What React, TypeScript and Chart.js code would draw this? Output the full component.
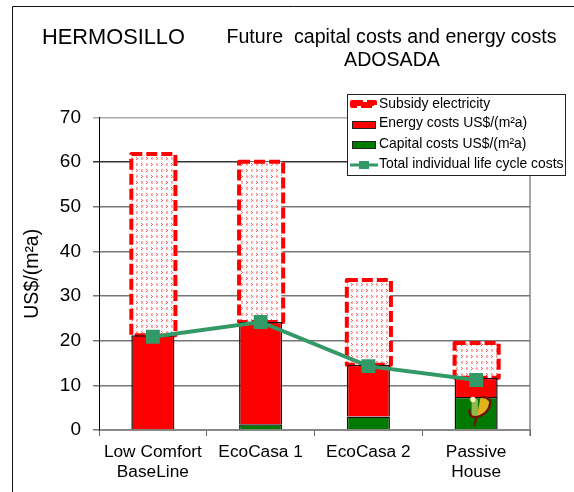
import React, { useEffect, useRef } from "react";
import { Chart, registerables } from "chart.js";

Chart.register(...registerables);

const FONT = '"Liberation Sans", Arial, sans-serif';
const categories = [["Low Comfort", "BaseLine"], "EcoCasa 1", "EcoCasa 2", ["Passive", "House"]];
const capitalCosts = [0, 1.3, 3, 7.4];
const energyCosts = [21.2, 22.9, 11.6, 4.3];
const subsidyElectricity = [40.6, 35.9, 19, 7.8];
const totalLifeCycle = [20.9, 24.2, 14.3, 11.2];
const yTicks = [0, 10, 20, 30, 40, 50, 60, 70];
const mainTitle = "HERMOSILLO";
const subTitle = ["Future  capital costs and energy costs", "ADOSADA"];
const yTitle = "US$/(m²a)";
const legendLabels = [
  "Subsidy electricity",
  "Energy costs US$/(m²a)",
  "Capital costs US$/(m²a)",
  "Total individual life cycle costs",
];

const RED = "#ff0000";
const GREEN = "#007a00";
const LINE = "#339966";

function makePattern(): CanvasPattern | string {
  const c = document.createElement("canvas");
  c.width = 10;
  c.height = 12;
  const x = c.getContext("2d");
  if (!x) return "#fff";
  x.fillStyle = "#ffffff";
  x.fillRect(0, 0, 10, 12);
  const pink = (a: number, b: number) => {
    x.fillStyle = "#ffb4b4";
    x.fillRect(a, b, 2, 3);
    x.fillStyle = "#ff8c8c";
    x.fillRect(a, b + 1, 1, 1);
  };
  const red = (a: number, b: number) => {
    x.fillStyle = "#ff5a5a";
    x.fillRect(a, b, 1, 1);
    x.fillRect(a + 1, b + 1, 1, 1);
    x.fillRect(a, b + 2, 1, 1);
  };
  pink(1, 1);
  red(6, 1);
  red(1, 7);
  pink(6, 7);
  return x.createPattern(c, "repeat") || "#fff";
}

function dashedBox(ctx: CanvasRenderingContext2D, l: number, t: number, r: number, b: number) {
  ctx.save();
  ctx.strokeStyle = RED;
  ctx.lineWidth = 4;
  ctx.lineJoin = "round";
  ctx.setLineDash([11, 4]);
  ctx.strokeRect(l, t, r - l, b - t);
  ctx.restore();
}

const decorPlugin = {
  id: "decor",
  beforeDraw(chart: any) {
    const { ctx, chartArea, scales } = chart;
    ctx.save();
    ctx.fillStyle = "#fff";
    ctx.fillRect(0, 0, chart.width, chart.height);
    ctx.strokeStyle = "#111";
    ctx.lineWidth = 1;
    ctx.beginPath();
    ctx.moveTo(12.5, chart.height);
    ctx.lineTo(12.5, 6.5);
    ctx.lineTo(chart.width, 6.5);
    ctx.stroke();

    ctx.fillStyle = "#000";
    ctx.textBaseline = "alphabetic";
    ctx.font = `21.8px ${FONT}`;
    ctx.textAlign = "left";
    ctx.fillText(mainTitle, 42, 44);
    ctx.font = `19.6px ${FONT}`;
    ctx.textAlign = "center";
    ctx.fillText(subTitle[0], 391.5, 43);
    ctx.fillText(subTitle[1], 392, 65.5);

    ctx.strokeStyle = "#888";
    ctx.lineWidth = 1.5;
    ctx.beginPath();
    ctx.moveTo(chartArea.right, chartArea.top);
    ctx.lineTo(chartArea.right, scales.y.bottom + 6);
    ctx.stroke();
    ctx.restore();
  },
  afterDatasetDraw(chart: any, args: any) {
    if (args.index !== 2) return;
    const { ctx } = chart;
    chart.getDatasetMeta(2).data.forEach((bar: any) => {
      const p = bar.getProps(["x", "y", "base", "width"], true);
      dashedBox(ctx, p.x - p.width / 2, p.y, p.x + p.width / 2 + 1, p.base);
    });
  },
  afterDatasetsDraw(chart: any) {
    const { ctx } = chart;
    // small emblem sitting on the last bar
    const bar = chart.getDatasetMeta(0).data[3];
    ctx.save();
    ctx.translate(bar.x + 3, bar.y + 10);
    ctx.scale(1.25, 1.25);
    const cx = 0;
    const cy = 0;
    ctx.fillStyle = "#8fb84e";
    ctx.beginPath();
    ctx.moveTo(cx - 6, cy - 7);
    ctx.lineTo(cx - 1, cy - 6);
    ctx.lineTo(cx - 1, cy + 7);
    ctx.lineTo(cx - 6, cy + 8);
    ctx.closePath();
    ctx.fill();
    ctx.fillStyle = "#e3b21a";
    ctx.beginPath();
    ctx.moveTo(cx - 2, cy + 8);
    ctx.quadraticCurveTo(cx + 8, cy + 4, cx + 8, cy - 4);
    ctx.quadraticCurveTo(cx + 5, cy - 8, cx + 1, cy - 7);
    ctx.closePath();
    ctx.fill();
    ctx.strokeStyle = "#7a0c00";
    ctx.lineWidth = 1.8;
    ctx.beginPath();
    ctx.moveTo(cx - 4, cy + 15);
    ctx.lineTo(cx - 2, cy + 8);
    ctx.quadraticCurveTo(cx + 9, cy + 5, cx + 9, cy - 5);
    ctx.quadraticCurveTo(cx + 7, cy - 8, cx + 2, cy - 8);
    ctx.moveTo(cx - 2, cy + 8);
    ctx.quadraticCurveTo(cx - 8, cy + 9, cx - 8, cy + 2);
    ctx.stroke();
    ctx.fillStyle = "#fff6c0";
    ctx.beginPath();
    ctx.arc(cx - 5, cy - 6, 2.2, 0, Math.PI * 2);
    ctx.fill();
    ctx.restore();

    // legend
    const L = 347.5, T = 94.5, R = 565.5, B = 175.5;
    ctx.save();
    ctx.fillStyle = "#fff";
    ctx.fillRect(L, T, R - L, B - T);
    ctx.strokeStyle = "#222";
    ctx.lineWidth = 1;
    ctx.strokeRect(L, T, R - L, B - T);
    ctx.textBaseline = "middle";
    ctx.textAlign = "left";
    ctx.font = `13.9px ${FONT}`;
    const rowY = [104, 125, 145, 165];
    const textY = [104, 123.5, 144, 164];
    legendLabels.forEach((label, i) => {
      const y = rowY[i];
      if (i === 0) {
        ctx.fillStyle = RED;
        ctx.fillRect(354, y - 2, 20, 4);
        dashedBox(ctx, 352, y - 2, 375, y + 2);
      } else if (i === 1 || i === 2) {
        ctx.fillStyle = i === 1 ? RED : GREEN;
        ctx.fillRect(352, y - 4, 24, 7);
        ctx.strokeStyle = "#222";
        ctx.lineWidth = 1;
        ctx.strokeRect(352.5, y - 3.5, 23, 7);
      } else {
        ctx.strokeStyle = LINE;
        ctx.lineWidth = 3;
        ctx.beginPath();
        ctx.moveTo(350, y);
        ctx.lineTo(378, y);
        ctx.stroke();
        ctx.fillStyle = LINE;
        ctx.fillRect(359, y - 4, 10, 8);
      }
      ctx.fillStyle = "#000";
      ctx.fillText(label, 379, textY[i]);
    });
    ctx.restore();
  },
};

let cachedPattern: CanvasPattern | string | null = null;
function makePatternCached(): any {
  if (!cachedPattern) cachedPattern = makePattern();
  return cachedPattern;
}

export default function App() {
  const ref = useRef<HTMLCanvasElement>(null);
  useEffect(() => {
    if (!ref.current) return;
    const barBase = { stack: "s", order: 1, barPercentage: 0.8, categoryPercentage: 0.5 };
    const chart = new Chart(ref.current, {
      type: "bar",
      data: {
        labels: categories as any,
        datasets: [
          { ...barBase, label: legendLabels[2], data: capitalCosts, backgroundColor: GREEN, borderColor: "#111", borderWidth: 1.5 },
          { ...barBase, label: legendLabels[1], data: energyCosts, backgroundColor: RED, borderColor: "#111", borderWidth: 1.5 },
          { ...barBase, label: legendLabels[0], data: subsidyElectricity, backgroundColor: makePatternCached(), borderWidth: 0 },
          {
            type: "line",
            order: 0,
            label: legendLabels[3],
            data: totalLifeCycle,
            borderColor: LINE,
            borderWidth: 4,
            pointStyle: "rect",
            pointRadius: 7,
            pointBackgroundColor: LINE,
            pointBorderColor: LINE,
            tension: 0,
          } as any,
        ],
      },
      options: {
        responsive: false,
        animation: false,
        layout: { padding: { left: 14, top: 117.5, right: 44, bottom: 0 } },
        plugins: { legend: { display: false }, title: { display: false }, tooltip: { enabled: false } },
        scales: {
          x: {
            stacked: true,
            afterFit: (s: any) => { s.height = 62; },
            grid: { drawOnChartArea: false, drawTicks: true, tickLength: 6, color: "#666", offset: true },
            border: { color: "#888", width: 2 },
            ticks: { color: "#000", font: { family: FONT, size: 17.3, lineHeight: 1.15 }, maxRotation: 0, autoSkip: false, padding: 6 },
          },
          y: {
            stacked: true,
            min: 0,
            max: 70,
            afterFit: (s: any) => { s.width = 85; },
            afterBuildTicks: (s: any) => { s.ticks = yTicks.map((value) => ({ value })); },
            grid: {
              tickLength: 6,
              lineWidth: 1.5,
              color: (c: any) => (c.tick && c.tick.value === 70 ? "#aaa" : c.tick && c.tick.value === 60 ? "#333" : "#777"),
            },
            border: { color: "#000", width: 1 },
            ticks: { color: "#000", font: { family: FONT, size: 19 }, padding: 12 },
            title: { display: true, text: yTitle, color: "#000", font: { family: FONT, size: 19.5 }, padding: { top: 7, bottom: 0 } },
          },
        },
      },
      plugins: [decorPlugin],
    } as any);
    return () => chart.destroy();
  }, []);
  return (
    <div style={{ position: "fixed", left: 0, top: 0, width: 574, height: 492, background: "#fff" }}>
      <canvas ref={ref} width={574} height={492} style={{ display: "block" }} />
    </div>
  );
}
